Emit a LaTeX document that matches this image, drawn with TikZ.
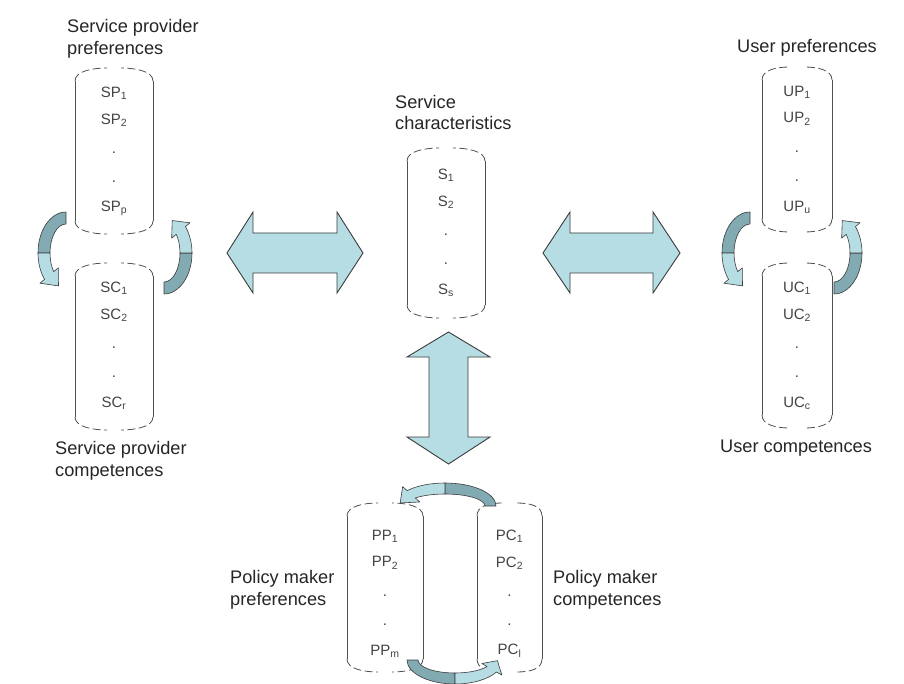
\documentclass[tikz,border=0pt]{standalone}
\usepackage{fontspec}
\setmainfont{Liberation Sans}
\usetikzlibrary{calc}
\definecolor{riblight}{HTML}{B5DDE3}
\definecolor{ribdark}{HTML}{82AAB2}
\definecolor{outl}{HTML}{3C3C3C}
\definecolor{txt}{HTML}{262626}
\definecolor{itm}{HTML}{444444}
\definecolor{cylc}{HTML}{505050}

\newcommand\drawcyl[1]{%
  \draw[cylside] ($(#1.north west)+(0,13)$) -- ($(#1.south west)+(0,-13)$);
  \draw[cylside] ($(#1.north east)+(0,13)$) -- ($(#1.south east)+(0,-13)$);
  \draw[cylcap] ($(#1.north west)+(0,13)$) .. controls +(0,-10) and +(-14,0) .. ($(#1.north)+(-7,0)$);
  \draw[cylcap] ($(#1.north east)+(0,13)$) .. controls +(0,-10) and +(14,0) .. ($(#1.north)+(7,0)$);
  \draw[cylcap] ($(#1.south west)+(0,-13)$) .. controls +(0,10) and +(-14,0) .. ($(#1.south)+(-7,0)$);
  \draw[cylcap] ($(#1.south east)+(0,-13)$) .. controls +(0,10) and +(14,0) .. ($(#1.south)+(7,0)$);
}
\newcommand\cylitems[5]{%
  \node[item] (#1-1) at ($(#1.north)+(0,25+#2)$) {#3};
  \node[item] (#1-2) at ($(#1.north)+(0,52+#2)$) {#4};
  \node[item] (#1-d1) at ($(#1.north)+(0,85+#2)$) {.};
  \node[item] (#1-d2) at ($(#1.north)+(0,114+#2)$) {.};
  \node[item] (#1-n) at ($(#1.north)+(0,140+#2)$) {#5};
}
% cx cy rx ry band a0 a1 a2 delta
\newcommand\ribbon[9]{%
  \pgfmathsetmacro\rxi{#3-#5}\pgfmathsetmacro\ryi{#4-#5}%
  \pgfmathsetmacro\rxm{#3-#5/2}\pgfmathsetmacro\rym{#4-#5/2}%
  \pgfmathsetmacro\rxa{#3+6}\pgfmathsetmacro\rya{#4+6}%
  \pgfmathsetmacro\rxb{\rxi-6}\pgfmathsetmacro\ryb{\ryi-6}%
  \pgfmathsetmacro\ati{#8+#9}%
  \filldraw[ribline, fill=ribdark] ($(#1,#2)+(#6:#3 and #4)$) arc[start angle=#6, end angle=#7, x radius=#3, y radius=#4]
     -- ($(#1,#2)+(#7:{\rxi} and {\ryi})$) arc[start angle=#7, end angle=#6, x radius=\rxi, y radius=\ryi] -- cycle;
  \filldraw[ribline, fill=riblight] ($(#1,#2)+(#7:#3 and #4)$) arc[start angle=#7, end angle=#8, x radius=#3, y radius=#4]
     -- ($(#1,#2)+(#8:{\rxa} and {\rya})$) -- ($(#1,#2)+({\ati}:{\rxm} and {\rym})$) -- ($(#1,#2)+(#8:{\rxb} and {\ryb})$)
     -- ($(#1,#2)+(#8:{\rxi} and {\ryi})$) arc[start angle=#8, end angle=#7, x radius=\rxi, y radius=\ryi] -- cycle;
}

\begin{document}
\begin{tikzpicture}[x=1pt,y=-1pt,
  cylbox/.style={draw=none, inner sep=0pt, outer sep=0pt},
  cylside/.style={draw=cylc, line width=0.8pt},
  cylcap/.style={draw=cylc, line width=0.8pt, dash pattern=on 8pt off 3.5pt},
  item/.style={text=itm, font=\fontsize{15}{18}\selectfont, inner sep=0pt},
  lbl/.style={text=txt, font=\fontsize{18.2}{21.5}\selectfont, align=left, inner sep=0pt, anchor=west},
  bigarrow/.style={draw=outl, fill=riblight, line width=0.9pt, line join=miter},
  ribline/.style={draw=outl, line width=0.6pt, line join=round}]
\useasboundingbox (0,0) rectangle (904,684);
\fill[white] (0,0) rectangle (904,684);

% cylinders
\node[cylbox, minimum width=78pt, minimum height=166pt] (SP) at (114,151) {};
\node[cylbox, minimum width=78pt, minimum height=167pt] (SC) at (114,346.5) {};
\node[cylbox, minimum width=78pt, minimum height=170pt] (S) at (446,233) {};
\node[cylbox, minimum width=70pt, minimum height=165pt] (UP) at (797,149.5) {};
\node[cylbox, minimum width=70pt, minimum height=165pt] (UC) at (797,345.5) {};
\node[cylbox, minimum width=76pt, minimum height=169pt] (PP) at (385,587.5) {};
\node[cylbox, minimum width=65pt, minimum height=169pt] (PC) at (509.5,587.5) {};
\foreach \c in {SP,SC,S,UP,UC,PP,PC} {\drawcyl{\c}}

\cylitems{SP}{0}{SP\textsubscript{1}}{SP\textsubscript{2}}{SP\textsubscript{p}}
\cylitems{SC}{0}{SC\textsubscript{1}}{SC\textsubscript{2}}{SC\textsubscript{r}}
\cylitems{S}{2}{S\textsubscript{1}}{S\textsubscript{2}}{S\textsubscript{s}}
\cylitems{UP}{0}{UP\textsubscript{1}}{UP\textsubscript{2}}{UP\textsubscript{u}}
\cylitems{UC}{0}{UC\textsubscript{1}}{UC\textsubscript{2}}{UC\textsubscript{c}}
\cylitems{PP}{8}{PP\textsubscript{1}}{PP\textsubscript{2}}{PP\textsubscript{m}}
\cylitems{PC}{8}{PC\textsubscript{1}}{PC\textsubscript{2}}{PC\textsubscript{l}}

% labels
\node[lbl] (lSP) at (67,39) {Service provider\\preferences};
\node[lbl] (lSC) at (55,461) {Service provider\\competences};
\node[lbl] (lS) at (395,112.5) {Service\\characteristics};
\node[lbl] (lUP) at (737,48) {User preferences};
\node[lbl] (lUC) at (720,448) {User competences};
\node[lbl] (lPP) at (230,590) {Policy maker\\preferences};
\node[lbl] (lPC) at (553,590) {Policy maker\\competences};

% big double arrows
\draw[bigarrow] (227,253) -- (253,212) -- (253,233) -- (337,233) -- (337,212) -- (363,253)
  -- (337,293) -- (337,273) -- (253,273) -- (253,293) -- cycle;
\draw[bigarrow] (543,253) -- (570,212) -- (570,233) -- (653,233) -- (653,212) -- (680,253)
  -- (653,293) -- (653,273) -- (570,273) -- (570,293) -- cycle;
\draw[bigarrow] (448.5,332) -- (490,357) -- (468,357) -- (468,437) -- (490,437) -- (448.5,464)
  -- (407,437) -- (429,437) -- (429,357) -- (407,357) -- cycle;

% curved ribbon arrows
\ribbon{66}{253}{28}{41}{12}{-90}{-180}{-220}{-30}
\ribbon{164}{253}{28}{41}{12}{90}{0}{-40}{-28}
\ribbon{750}{253}{28}{41}{12}{-90}{-180}{-220}{-30}
\ribbon{834}{253}{28}{41}{12}{90}{0}{-40}{-28}
\ribbon{445}{506}{51}{23}{11}{0}{-90}{-138}{-32}
\ribbon{455}{660}{48}{24}{11}{180}{90}{30}{-28}
\end{tikzpicture}
\end{document}
